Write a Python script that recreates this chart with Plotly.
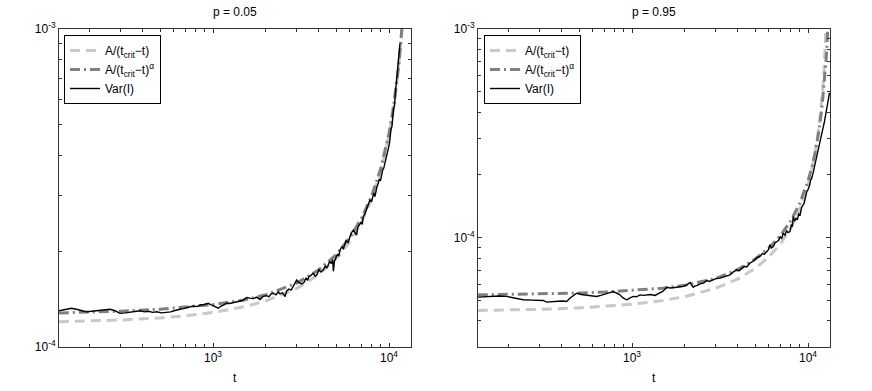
import plotly.graph_objects as go

# ---------------- data ----------------
# Left panel, p = 0.05
t_fit_L = [133, 200, 300, 500, 700, 1000, 1500, 2000, 3000, 4000, 5000, 6000, 7000,
           8000, 9000, 10000, 10500, 11000, 11300, 11450, 11600, 11750, 11900, 12100]
fit1_L = [1.2007, 1.2067, 1.2159, 1.2347, 1.2540, 1.2842, 1.3379, 1.3963, 1.5298, 1.6915,
          1.8915, 2.1450, 2.4772, 2.9309, 3.5883, 4.6256, 5.4072, 6.5067, 7.4108, 7.964,
          8.6068, 9.362, 10.263, 11.773]  # x 1e-4
fit2_L = [1.28, 1.2863, 1.2958, 1.3152, 1.3351, 1.3600, 1.405, 1.46, 1.59, 1.75,
          1.95, 2.21, 2.55, 3.00, 3.66, 4.70, 5.49, 6.58, 7.47, 8.015,
          8.645, 9.383, 10.26, 11.72]  # x 1e-4

t_var_L = [133, 145, 157, 172, 191, 205, 220, 240, 260, 278, 296, 318, 340, 362, 385, 408,
           430, 455, 479, 510, 546, 575, 600, 625, 649, 680, 710, 740, 773, 810, 850, 890,
           920, 941, 970, 1000, 1035, 1072, 1100, 1130, 1165, 1197, 1240, 1300, 1350, 1400,
           1470, 1520, 1555, 1620, 1700, 1770, 1850, 1920, 2000, 2080, 2140, 2203, 2280,
           2350, 2400, 2480, 2567, 2620, 2700, 2780, 2850, 2920, 2988, 3050, 3118, 3200,
           3300, 3380, 3450, 3500, 3600, 3715, 3800, 3900, 4000, 4100, 4236, 4350, 4420,
           4500, 4600, 4700, 4786, 4830, 4900, 5000, 5100, 5180, 5272, 5400, 5500, 5600,
           5700, 5850, 6000, 6100, 6270, 6400, 6547, 6650, 6800, 6950, 7050, 7140, 7300,
           7450, 7600, 7700, 7790, 7950, 8100, 8200, 8318, 8450, 8550, 8690, 8800, 8950,
           9078, 9200, 9350, 9480, 9600, 9750, 9903, 10050, 10250, 10400, 10600, 10750,
           10900, 11070, 11200, 11300, 11420, 11550]
var_L = [1.30, 1.31, 1.324, 1.31, 1.29, 1.295, 1.30, 1.31, 1.314, 1.30, 1.276, 1.28, 1.285,
         1.295, 1.30, 1.29, 1.295, 1.285, 1.29, 1.28, 1.282, 1.29, 1.30, 1.31, 1.314, 1.32,
         1.33, 1.335, 1.346, 1.34, 1.355, 1.36, 1.365, 1.372, 1.36, 1.35, 1.335, 1.324, 1.34,
         1.35, 1.365, 1.372, 1.37, 1.38, 1.385, 1.39, 1.40, 1.42, 1.43, 1.425, 1.42, 1.435,
         1.41, 1.44, 1.45, 1.44, 1.47, 1.476, 1.46, 1.49, 1.47, 1.48, 1.44, 1.50, 1.52, 1.51,
         1.55, 1.58, 1.625, 1.60, 1.586, 1.58, 1.60, 1.65, 1.62, 1.66, 1.68, 1.706, 1.67,
         1.69, 1.75, 1.72, 1.748, 1.80, 1.77, 1.80, 1.86, 1.83, 1.88, 1.73, 1.86, 1.90, 1.96,
         1.93, 2.02, 2.07, 2.03, 2.10, 2.16, 2.13, 2.22, 2.28, 2.33, 2.29, 2.25, 2.38, 2.42,
         2.47, 2.43, 2.57, 2.62, 2.70, 2.76, 2.82, 2.90, 2.86, 2.95, 3.05, 2.97, 3.15, 3.20,
         3.27, 3.38, 3.33, 3.52, 3.60, 3.66, 3.78, 3.92, 3.98, 4.17, 4.35, 4.80, 4.95, 5.60,
         5.75, 6.40, 6.92, 7.40, 8.00, 8.30, 9.00]  # x 1e-4

# Right panel, p = 0.95
t_fit1_R = [133, 200, 300, 500, 700, 1000, 1500, 2000, 3000, 4000, 5000, 6000, 7000, 8000,
            9000, 10000, 10500, 11000, 11500, 11800, 12100, 12400, 12600, 12800, 12950]
fit1_R = [4.4877, 4.5107, 4.5455, 4.6166, 4.6900, 4.8046, 5.0085, 5.2305, 5.7393, 6.3578,
          7.1256, 8.1044, 9.3949, 11.174, 13.785, 17.988, 21.223, 25.877, 33.146, 39.865,
          50.000, 67.045, 86.765, 122.92, 178.79]  # x 1e-5
t_fit2_R = [133, 300, 500, 700, 1000, 1500, 2000, 3000, 4000, 5000, 6000, 7000, 8000, 9000,
            10000, 10500, 11000, 11500, 12000, 12400, 12700, 12900, 13000, 13100]
fit2_R = [5.33, 5.38, 5.44, 5.50, 5.62, 5.74, 5.92, 6.40, 7.05, 7.90, 8.95,
          10.30, 12.10, 14.70, 18.70, 21.70, 25.80, 32.00, 41.917, 55.351, 73.061,
          93.135, 108.11, 128.8]  # x 1e-5

t_var_R = [133, 145, 160, 175, 193, 215, 241, 270, 295, 313, 327, 350, 380, 405, 425, 445,
           465, 485, 515, 550, 590, 630, 665, 700, 740, 783, 815, 850, 890, 934, 975, 1017,
           1060, 1110, 1160, 1212, 1280, 1350, 1400, 1442, 1500, 1575, 1650, 1750, 1850,
           1959, 2050, 2138, 2180, 2230, 2280, 2333, 2430, 2543, 2600, 2655, 2750, 2898,
           3000, 3162, 3300, 3450, 3606, 3750, 3936, 4050, 4200, 4350, 4484, 4600, 4680,
           4850, 5000, 5150, 5330, 5500, 5650, 5800, 5950, 6083, 6200, 6350, 6500, 6650,
           6800, 6950, 7100, 7230, 7400, 7550, 7700, 7900, 8050, 8150, 8240, 8400, 8550,
           8700, 8850, 9020, 9200, 9350, 9500, 9650, 9840, 10000, 10200, 10350, 10500,
           10700, 10900, 11050, 11220, 11400, 11550, 11700, 11850, 11970, 12100, 12250,
           12400, 12500, 12650, 12800, 12950, 13050, 13150, 13250]
var_R = [5.20, 5.22, 5.25, 5.26, 5.24, 5.15, 5.05, 5.03, 5.04, 5.01, 4.92, 4.96, 4.97, 4.98,
         4.96, 5.15, 5.30, 5.43, 5.35, 5.30, 5.28, 5.24, 5.30, 5.35, 5.45, 5.53, 5.45, 5.35,
         5.15, 5.05, 5.15, 5.24, 5.22, 5.33, 5.30, 5.33, 5.35, 5.30, 5.38, 5.43, 5.55, 5.80,
         5.75, 5.78, 5.82, 5.85, 5.95, 6.11, 5.95, 5.80, 5.88, 5.90, 6.02, 6.07, 6.15, 6.25,
         6.18, 6.30, 6.38, 6.41, 6.50, 6.60, 6.65, 6.85, 7.03, 6.95, 7.15, 7.30, 7.25, 7.45,
         7.57, 7.70, 7.85, 8.05, 8.14, 8.40, 8.35, 8.60, 8.75, 9.26, 8.95, 9.09, 9.45, 9.60,
         9.70, 10.1, 9.95, 10.53, 10.3, 10.8, 10.6, 10.72, 11.6, 11.3, 12.65, 12.0, 12.4,
         12.2, 13.0, 12.88, 14.0, 14.3, 14.6, 15.5, 16.65, 17.0, 17.8, 18.9, 19.3, 20.5,
         22.0, 22.5, 24.1, 26.0, 27.0, 28.5, 29.5, 31.1, 32.5, 34.5, 36.0, 37.4, 39.5, 42.0,
         44.0, 46.6, 48.0, 49.5]  # x 1e-5

titles = ["p = 0.05", "p = 0.95"]
names = ["A/(t<sub>crit</sub>\u2212t)", "A/(t<sub>crit</sub>\u2212t)<sup>\u03b1</sup>", "Var(I)"]
x_major = [1000, 10000]
x_major_text = ["10<sup>3</sup>", "10<sup>4</sup>"]
x_minor = [200, 300, 400, 500, 600, 700, 800, 900, 2000, 3000, 4000, 5000, 6000, 7000,
           8000, 9000]
yL_major = [1e-4, 1e-3]
yL_major_text = ["10<sup>-4</sup>", "10<sup>-3</sup>"]
yL_minor = [2e-4, 3e-4, 4e-4, 5e-4, 6e-4, 7e-4, 8e-4, 9e-4]
yR_major = [1e-4, 1e-3]
yR_major_text = ["10<sup>-4</sup>", "10<sup>-3</sup>"]
yR_minor = [3e-5, 4e-5, 5e-5, 6e-5, 7e-5, 8e-5, 9e-5,
            2e-4, 3e-4, 4e-4, 5e-4, 6e-4, 7e-4, 8e-4, 9e-4]

# ---------------- figure ----------------
W, H = 872, 391
FONT = "Liberation Sans, Arial, sans-serif"
FS = 12
C1, C2, C3 = "#c8c8c8", "#808080", "#000000"
DASH1 = "10px,6px"
DASH2 = "10px,4px,2px,4px"

fig = go.Figure()

def add_panel(xa, ya, leg, t1, f1, t2, f2, tv, v, scale):
    fig.add_trace(go.Scatter(x=t1, y=[a * scale for a in f1], mode="lines", name=names[0],
                             line=dict(color=C1, width=3, dash=DASH1),
                             xaxis=xa, yaxis=ya, legend=leg))
    fig.add_trace(go.Scatter(x=t2, y=[a * scale for a in f2], mode="lines", name=names[1],
                             line=dict(color=C2, width=3, dash=DASH2),
                             xaxis=xa, yaxis=ya, legend=leg))
    fig.add_trace(go.Scatter(x=tv, y=[a * scale for a in v], mode="lines", name=names[2],
                             line=dict(color=C3, width=1.4),
                             xaxis=xa, yaxis=ya, legend=leg))

add_panel("x", "y", "legend", t_fit_L, fit1_L, t_fit_L, fit2_L, t_var_L, var_L, 1e-4)
add_panel("x2", "y2", "legend2", t_fit1_R, fit1_R, t_fit2_R, fit2_R, t_var_R, var_R, 1e-5)

def axstyle(major, text, minor, **kw):
    d = dict(type="log", showgrid=False, zeroline=False, showline=True, linecolor="#333333",
             linewidth=1, mirror="ticks", ticks="inside", ticklen=4, tickcolor="#333333",
             tickmode="array", tickvals=major, ticktext=text,
             minor=dict(tickmode="array", tickvals=minor, ticks="inside", ticklen=3,
                        tickcolor="#333333", showgrid=False),
             tickfont=dict(family=FONT, size=FS, color="black"), automargin=False)
    d.update(kw)
    return d

yd = [(H - 347) / H, (H - 29) / H]
fig.update_layout(
    width=W, height=H, margin=dict(l=0, r=0, t=0, b=0, pad=0), autosize=False,
    paper_bgcolor="white", plot_bgcolor="white",
    font=dict(family=FONT, size=FS, color="black"),
    xaxis=axstyle(x_major, x_major_text, x_minor, domain=[59 / W, 411 / W],
                  range=[2.125, 4.125], anchor="y"),
    yaxis=axstyle(yL_major, yL_major_text, yL_minor, domain=yd, range=[-4, -3], anchor="x"),
    xaxis2=axstyle(x_major, x_major_text, x_minor, domain=[478 / W, 830 / W],
                   range=[2.125, 4.125], anchor="y2"),
    yaxis2=axstyle(yR_major, yR_major_text, yR_minor, domain=yd, range=[-4.5229, -3],
                   anchor="x2"),
    legend=dict(x=64 / W, y=1 - 35 / H, xanchor="left", yanchor="top", bgcolor="white",
                bordercolor="black", borderwidth=1, font=dict(family=FONT, size=FS),
                tracegroupgap=0),
    legend2=dict(x=484 / W, y=1 - 35 / H, xanchor="left", yanchor="top", bgcolor="white",
                 bordercolor="black", borderwidth=1, font=dict(family=FONT, size=FS),
                 tracegroupgap=0),
    showlegend=True,
)

for cx, title in zip([(59 + 411) / 2, (478 + 830) / 2], titles):
    fig.add_annotation(text=title, x=cx / W, y=1 - 12 / H, xref="paper", yref="paper",
                       showarrow=False, xanchor="center", yanchor="middle",
                       font=dict(family=FONT, size=FS))
    fig.add_annotation(text="t", x=cx / W, y=1 - 378 / H, xref="paper", yref="paper",
                       showarrow=False, xanchor="center", yanchor="middle",
                       font=dict(family=FONT, size=FS))

fig.write_html("out.html",
               config={"displayModeBar": False, "staticPlot": True},
               post_script="document.body.style.margin='0';"
                           "document.body.style.padding='0';"
                           "document.body.style.overflow='hidden';")
